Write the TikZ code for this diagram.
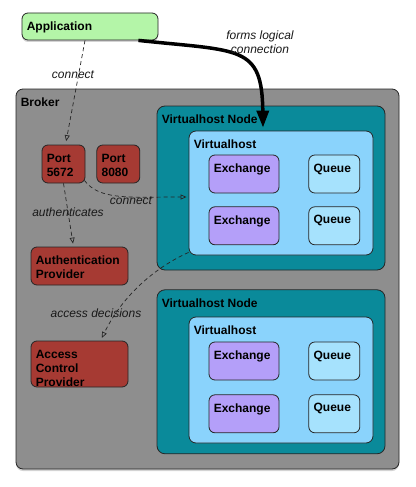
\documentclass[tikz,border=0pt]{standalone}
\usepackage{fontspec}
\setmainfont{Liberation Sans}
\usetikzlibrary{arrows.meta, positioning, shadows}

\definecolor{appgreen}{HTML}{B4F5A8}
\definecolor{brokergray}{HTML}{8E8E8E}
\definecolor{vhnteal}{HTML}{0A8A9A}
\definecolor{vhblue}{HTML}{8AD3FC}
\definecolor{exviolet}{HTML}{B49FF9}
\definecolor{qblue}{HTML}{A6E2FD}
\definecolor{portred}{HTML}{A63A33}

\begin{document}
\begin{tikzpicture}[
  x=1pt, y=-1pt,
  node distance=11pt,
  boxbase/.style={draw=black!85, line width=0.8pt, rounded corners=6pt, inner sep=0pt},
  boxtitle/.style={label={[anchor=north west, inner xsep=5pt, inner ysep=9pt,
              align=left, font=\fontsize{12}{14}\selectfont\bfseries]north west:{#1}}},
  shade/.style={drop shadow={opacity=0.35, shadow xshift=0pt, shadow yshift=-2pt}},
  broker/.style={boxbase, fill=brokergray, rounded corners=7pt, shade},
  vhnode/.style={boxbase, fill=vhnteal, rounded corners=8pt,
              minimum width=228pt, minimum height=164pt},
  vhost/.style={boxbase, fill=vhblue, rounded corners=7pt,
              minimum width=184pt, minimum height=124pt},
  exch/.style={boxbase, fill=exviolet, minimum width=70pt, minimum height=38pt},
  queue/.style={boxbase, fill=qblue, minimum width=51pt, minimum height=38pt},
  comp/.style={boxbase, fill=portred, minimum height=38pt},
  dep/.style={-{Triangle[open, length=6pt, width=5pt]}, dash pattern=on 4pt off 3pt,
              line width=0.7pt, black!85},
  link/.style={-{Triangle[length=17pt, width=12pt]}, line width=3.5pt},
  lbl/.style={font=\fontsize{12}{14}\selectfont\itshape, black!90, align=center}
]
\useasboundingbox (0,0) rectangle (415,487);

\node[broker, minimum width=383pt, minimum height=380pt, boxtitle=Broker] (broker) at (207.5,279) {};

% first virtualhost node
\node[vhnode, boxtitle={Virtualhost Node}] (vhn1) at (271,188) {};
\node[vhost, boxtitle=Virtualhost]           (vh1) at (281,193) {};
\node[exch, boxtitle=Exchange]               (ex1) at (244,174) {};
\node[queue, boxtitle=Queue, right=29pt of ex1]  (q1) {};
\node[exch, boxtitle=Exchange, below=13pt of ex1] (ex2) {};
\node[queue, boxtitle=Queue, below=13pt of q1]    (q2) {};

% second virtualhost node
\node[vhnode, boxtitle={Virtualhost Node}, below=19pt of vhn1] (vhn2) {};
\node[vhost, boxtitle=Virtualhost, minimum height=126pt] (vh2) at (281,380) {};
\node[exch, boxtitle=Exchange]               (ex3) at (244,361) {};
\node[queue, boxtitle=Queue, right=29pt of ex3]  (q3) {};
\node[exch, boxtitle=Exchange, below=14pt of ex3] (ex4) {};
\node[queue, boxtitle=Queue, below=14pt of q3]    (q4) {};

% ports and providers
\node[comp, minimum width=43pt, boxtitle={Port\\5672}] (port1) at (63.5,164) {};
\node[comp, minimum width=43pt, boxtitle={Port\\8080}, right=of port1] (port2) {};
\node[comp, minimum width=97pt, boxtitle={Authentication\\Provider}] (authp) at (79.5,266) {};
\node[comp, minimum width=97pt, minimum height=46pt,
      boxtitle={Access\\Control\\Provider}] (acp) at (79.5,364) {};

\node[boxbase, fill=appgreen, shade, minimum width=136pt, minimum height=27pt,
      boxtitle=Application] (app) at (90,26.5) {};

% connectors
\draw[dep, shorten >=3.5pt] ([xshift=-5pt]app.south) -- ([xshift=2pt]port1.north);
\draw[dep, shorten >=3pt] (port1.south) -- ([xshift=-6pt]authp.north);
\draw[dep, shorten >=2pt] ([shift={(-1pt,3pt)}]port1.south east)
  .. controls +(15,20) and +(-60,0) .. ([yshift=-4pt]vh1.west);
\draw[dep, shorten >=3pt] ([yshift=3pt]vh1.south west)
  .. controls +(-29,13) and +(24,-49) .. ([xshift=21pt]acp.north);
\draw[link] ([xshift=-20pt]app.south east)
  .. controls +(102,11) and +(-1,-83) .. ([shift={(-18pt,3pt)}]vh1.north);

\node[lbl] (formslbl) at (260,42)  {forms logical\\connection};
\node[lbl] (conn1lbl) at (73,75)   {connect};
\node[lbl] (authlbl)  at (68,212)  {authenticates};
\node[lbl] (conn2lbl) at (131,201) {connect};
\node[lbl] (acclbl)   at (96,313)  {access decisions};
\end{tikzpicture}
\end{document}
